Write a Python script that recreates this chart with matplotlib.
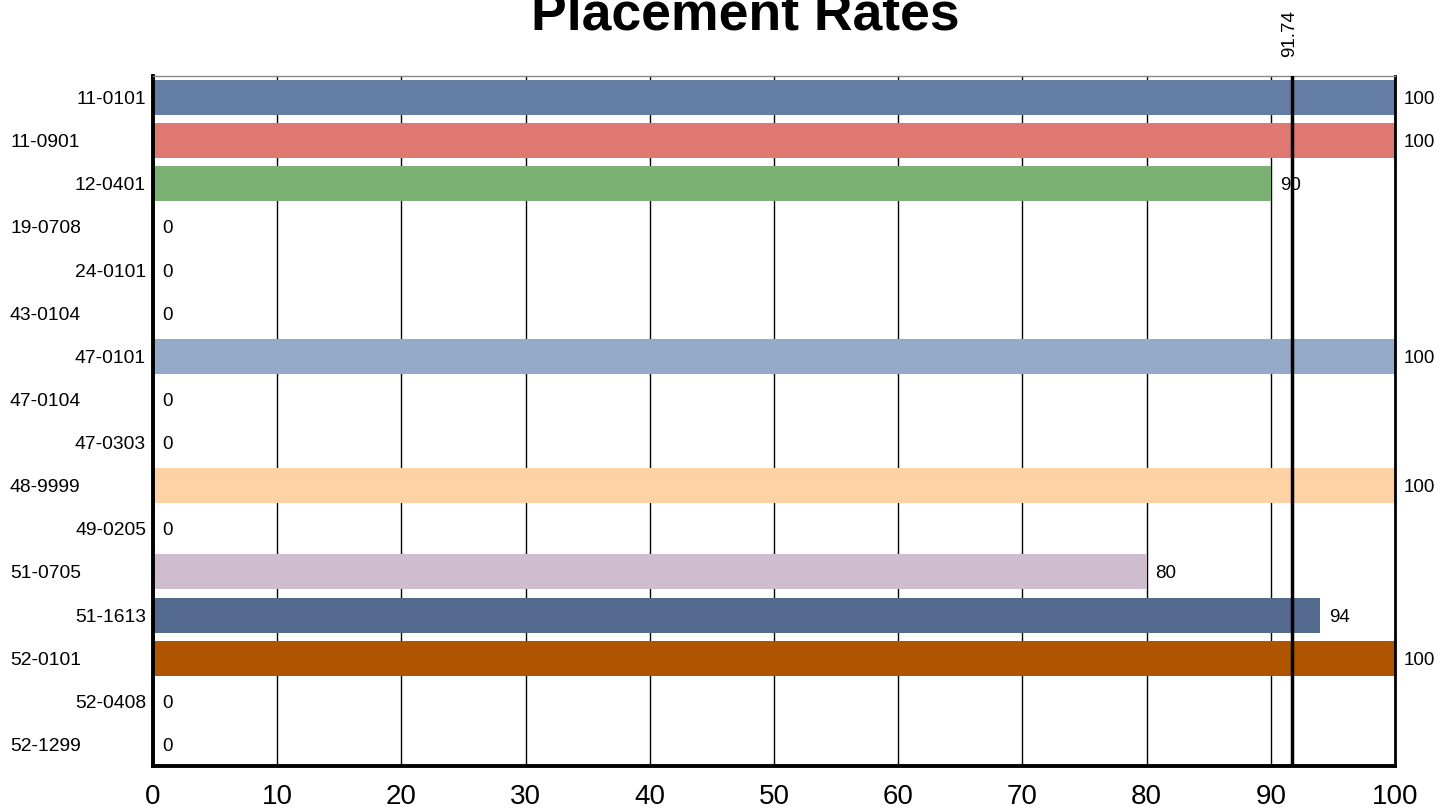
import matplotlib
matplotlib.use("Agg")
import matplotlib.pyplot as plt
import matplotlib.transforms as mtransforms

categories = ["11-0101", "11-0901", "12-0401", "19-0708", "24-0101", "43-0104",
              "47-0101", "47-0104", "47-0303", "48-9999", "49-0205", "51-0705",
              "51-1613", "52-0101", "52-0408", "52-1299"]
values = [100, 100, 90, 0, 0, 0, 100, 0, 0, 100, 0, 80, 94, 100, 0, 0]
colors = ["#647DA5", "#DF7870", "#7BB173", "#647DA5", "#647DA5", "#647DA5",
          "#95AAC8", "#647DA5", "#647DA5", "#FFD2A6", "#647DA5", "#CFBDCF",
          "#53698E", "#AF5500", "#647DA5", "#647DA5"]
mean_value = 91.74
x_ticks = [0, 10, 20, 30, 40, 50, 60, 70, 80, 90, 100]
title = "Placement Rates"

plt.rcParams['font.family'] = ['Liberation Sans', 'DejaVu Sans']

W, H = 1452, 809
fig = plt.figure(figsize=(W / 100, H / 100), dpi=100)
left, right, top, bottom = 153 / W, 1395 / W, 1 - 76 / H, 1 - 766 / H
ax = fig.add_axes([left, bottom, right - left, top - bottom])

ypos = list(range(len(categories)))
ax.barh(ypos, values, height=0.81, color=colors, zorder=2)
ax.set_ylim(len(categories) - 0.5, -0.5)
ax.set_xlim(0, 100)

ax.set_xticks(x_ticks)
ax.set_xticklabels([str(t) for t in x_ticks], fontsize=20)
ax.tick_params(axis='x', length=0, pad=13)
ax.set_yticks([])
ax.grid(axis='x', color='black', linewidth=1.0, zorder=1)

for s in ['left', 'bottom']:
    ax.spines[s].set_linewidth(2.8)
ax.spines['right'].set_linewidth(2.0)
ax.spines['top'].set_linewidth(1.0)
ax.spines['top'].set_color('#888888')

# staggered category labels
left_trans = mtransforms.blended_transform_factory(fig.transFigure, ax.transData)
for i, cat in enumerate(categories):
    if i % 2 == 0:
        ax.annotate(cat, xy=(0, i), xycoords='data', xytext=(-7, -2),
                    textcoords='offset pixels', ha='right', va='center', fontsize=13.9)
    else:
        ax.annotate(cat, xy=(10 / W, i), xycoords=left_trans, xytext=(0, -2),
                    textcoords='offset pixels', ha='left', va='center', fontsize=13.9)

# value labels
for i, v in enumerate(values):
    ax.annotate(f"{v:g}", xy=(v, i), xytext=(9, -2), textcoords='offset pixels',
                ha='left', va='center', fontsize=13.5, zorder=4, annotation_clip=False)

# mean line
ax.axvline(mean_value, color='black', linewidth=2.5, zorder=3)
ax.annotate(f"{mean_value:.2f}", xy=(mean_value, 1.0),
            xycoords=('data', 'axes fraction'), xytext=(-3, 19), textcoords='offset pixels',
            rotation=90, ha='center', va='bottom', fontsize=13.5, annotation_clip=False)

fig.text(745 / W, 1 - 29 / H, title, ha='center', va='baseline',
         fontsize=38.5, fontweight='bold')

fig.savefig("out.png", dpi=100)
